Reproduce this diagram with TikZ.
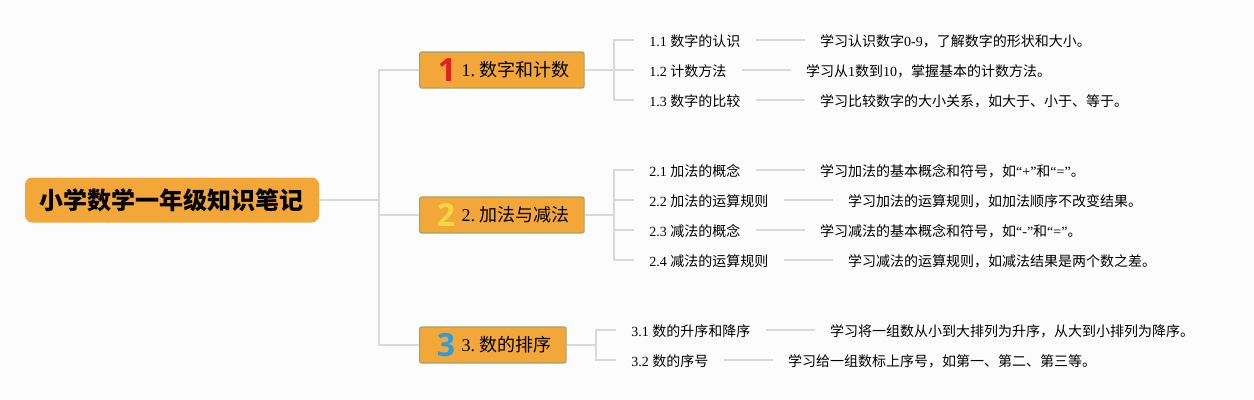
\documentclass[tikz,border=0pt]{standalone}
\usepackage{fontspec}
\setmainfont{Liberation Serif}
\newfontfamily\cjk{Noto Sans CJK SC}
\newfontfamily\markfont{Open Sans}
\usetikzlibrary{positioning}
\definecolor{topicfill}{HTML}{F3A738}
\definecolor{topicedge}{HTML}{9FA56B}
\definecolor{branchgray}{HTML}{D9D9D9}
\definecolor{pagegray}{HTML}{FCFCFC}
\definecolor{markred}{HTML}{E0201C}
\definecolor{markyellow}{HTML}{F6D743}
\definecolor{markblue}{HTML}{2D9CDB}
\newcommand{\topiclabel}[2]{\kern31.5pt#1\kern3pt{\cjk #2}\kern11.25pt}
\tikzset{
  rootbox/.style={fill=topicfill, rounded corners=5.5pt, inner xsep=0pt, minimum width=220.5pt, minimum height=33.75pt, font=\cjk\bfseries\fontsize{18}{20}\selectfont},
  topicbox/.style={draw=topicedge, line width=0.9pt, fill=topicfill, rounded corners=1.5pt, inner xsep=0pt, minimum height=27pt, anchor=west, font=\fontsize{13.5}{16}\selectfont},
  iconmark/.style={inner sep=0pt, font=\markfont\bfseries\fontsize{24}{26}\selectfont},
  subitem/.style={inner xsep=11.25pt, inner ysep=0pt, text height=12.7pt, text depth=2.5pt, anchor=west, font=\fontsize{10.5}{12}\selectfont},
  branch/.style={draw=branchgray, line width=1.2pt}
}
\begin{document}
\begin{tikzpicture}[x=0.75pt, y=-0.75pt]
  \useasboundingbox[fill=pagegray] (0, 0) rectangle (1254, 400);

  \node[rootbox] (root) at (172, 200) {小学数学一年级知识笔记};
  \node[topicbox] (topic1) at (419, 70) {\topiclabel{1.}{数字和计数}};
  \node[topicbox] (topic2) at (419, 215) {\topiclabel{2.}{加法与减法}};
  \node[topicbox] (topic3) at (419, 345) {\topiclabel{3.}{数的排序}};
  \node[iconmark, text=markred] (mark1) at (447, 70) {1};
  \node[iconmark, text=markyellow] (mark2) at (446, 215) {2};
  \node[iconmark, text=markblue] (mark3) at (446, 345) {3};

  \node[subitem] (item11) at (634, 40) {1.1 {\cjk 数字的认识}};
  \node[subitem] (item12) at (634, 70) {1.2 {\cjk 计数方法}};
  \node[subitem] (item13) at (634, 100) {1.3 {\cjk 数字的比较}};
  \node[subitem] (item21) at (634, 170) {2.1 {\cjk 加法的概念}};
  \node[subitem] (item22) at (634, 200) {2.2 {\cjk 加法的运算规则}};
  \node[subitem] (item23) at (634, 230) {2.3 {\cjk 减法的概念}};
  \node[subitem] (item24) at (634, 260) {2.4 {\cjk 减法的运算规则}};
  \node[subitem] (item31) at (616, 330) {3.1 {\cjk 数的升序和降序}};
  \node[subitem] (item32) at (616, 360) {3.2 {\cjk 数的序号}};

  \node[subitem, right=37pt of item11] (note11) {\cjk 学习认识数字{\rmfamily 0-9}，了解数字的形状和大小。};
  \node[subitem, right=37pt of item12] (note12) {\cjk 学习从{\rmfamily 1}数到{\rmfamily 10}，掌握基本的计数方法。};
  \node[subitem, right=37pt of item13] (note13) {\cjk 学习比较数字的大小关系，如大于、小于、等于。};
  \node[subitem, right=37pt of item21] (note21) {\cjk 学习加法的基本概念和符号，如{\rmfamily “+”}和{\rmfamily “=”}。};
  \node[subitem, right=37pt of item22] (note22) {\cjk 学习加法的运算规则，如加法顺序不改变结果。};
  \node[subitem, right=37pt of item23] (note23) {\cjk 学习减法的基本概念和符号，如{\rmfamily “-”}和{\rmfamily “=”}。};
  \node[subitem, right=37pt of item24] (note24) {\cjk 学习减法的运算规则，如减法结果是两个数之差。};
  \node[subitem, right=37pt of item31] (note31) {\cjk 学习将一组数从小到大排列为升序，从大到小排列为降序。};
  \node[subitem, right=37pt of item32] (note32) {\cjk 学习给一组数标上序号，如第一、第二、第三等。};

  \coordinate (trunk) at (379, 200);
  \coordinate (trunk1) at (614, 70);
  \coordinate (trunk2) at (614, 215);
  \coordinate (trunk3) at (596, 345);

  \draw[branch] (root.east) -- (trunk);
  \draw[branch] (trunk) |- (topic1.west);
  \draw[branch] (trunk) |- (topic2.west);
  \draw[branch] (trunk) |- (topic3.west);

  \draw[branch] (topic1.east) -- (trunk1);
  \draw[branch] (trunk1) |- (item11.west);
  \draw[branch] (trunk1) -- (item12.west);
  \draw[branch] (trunk1) |- (item13.west);

  \draw[branch] (topic2.east) -- (trunk2);
  \draw[branch] (trunk2) |- (item21.west);
  \draw[branch] (trunk2) |- (item22.west);
  \draw[branch] (trunk2) |- (item23.west);
  \draw[branch] (trunk2) |- (item24.west);

  \draw[branch] (topic3.east) -- (trunk3);
  \draw[branch] (trunk3) |- (item31.west);
  \draw[branch] (trunk3) |- (item32.west);

  \draw[branch] (item11) -- (note11);
  \draw[branch] (item12) -- (note12);
  \draw[branch] (item13) -- (note13);
  \draw[branch] (item21) -- (note21);
  \draw[branch] (item22) -- (note22);
  \draw[branch] (item23) -- (note23);
  \draw[branch] (item24) -- (note24);
  \draw[branch] (item31) -- (note31);
  \draw[branch] (item32) -- (note32);
\end{tikzpicture}
\end{document}
